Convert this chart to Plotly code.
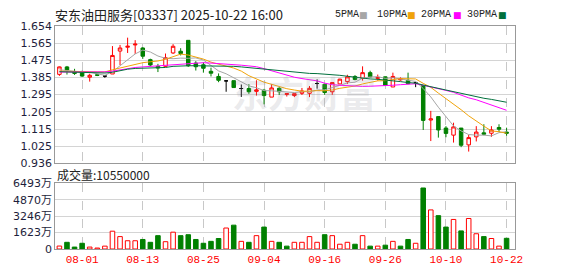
import plotly.graph_objects as go

# ---------------- data ----------------
dates = ["07-29", "07-30", "07-31",
         "08-01", "08-04", "08-05", "08-06", "08-07", "08-08", "08-11", "08-12", "08-13", "08-14",
         "08-15", "08-18", "08-19", "08-20", "08-21", "08-22", "08-25", "08-26", "08-27", "08-28", "08-29",
         "09-01", "09-02", "09-03", "09-04", "09-05", "09-08", "09-09", "09-10", "09-11", "09-12",
         "09-15", "09-16", "09-17", "09-18", "09-19", "09-22", "09-23", "09-24", "09-25", "09-26",
         "09-29", "09-30", "10-02", "10-03", "10-06", "10-08", "10-09", "10-10", "10-13", "10-14",
         "10-15", "10-16", "10-17", "10-20", "10-21", "10-22"]

opens = [1.401, 1.440, 1.415, 1.413, 1.386, 1.399, 1.392, 1.403, 1.523, 1.543,
         1.555, 1.539, 1.478, 1.443, 1.443, 1.513, 1.522, 1.579, 1.460, 1.451,
         1.417, 1.390, 1.367, 1.368, 1.327, 1.327, 1.312, 1.318, 1.282, 1.328,
         1.296, 1.290, 1.302, 1.302, 1.353, 1.349, 1.310, 1.351, 1.363, 1.390,
         1.380, 1.410, 1.380, 1.388, 1.335, 1.372, 1.370, 1.357, 1.343, 1.162,
         1.180, 1.120, 1.083, 1.120, 1.032, 1.074, 1.095, 1.093, 1.123, 1.099]
highs = [1.442, 1.445, 1.430, 1.420, 1.404, 1.400, 1.398, 1.549, 1.555, 1.593,
         1.580, 1.543, 1.483, 1.456, 1.510, 1.559, 1.538, 1.580, 1.470, 1.463,
         1.436, 1.406, 1.367, 1.368, 1.348, 1.350, 1.370, 1.325, 1.350, 1.334,
         1.300, 1.300, 1.330, 1.340, 1.375, 1.352, 1.360, 1.378, 1.399, 1.397,
         1.443, 1.420, 1.400, 1.390, 1.410, 1.385, 1.410, 1.362, 1.345, 1.210,
         1.180, 1.130, 1.148, 1.120, 1.085, 1.130, 1.140, 1.130, 1.140, 1.122]
lows = [1.393, 1.400, 1.398, 1.388, 1.363, 1.392, 1.383, 1.403, 1.450, 1.513,
        1.508, 1.482, 1.443, 1.413, 1.440, 1.508, 1.500, 1.440, 1.421, 1.410,
        1.390, 1.360, 1.310, 1.332, 1.283, 1.299, 1.290, 1.244, 1.282, 1.293,
        1.285, 1.282, 1.293, 1.282, 1.326, 1.294, 1.294, 1.350, 1.350, 1.370,
        1.368, 1.385, 1.368, 1.340, 1.335, 1.368, 1.350, 1.334, 1.110, 1.052,
        1.070, 1.072, 1.044, 1.020, 0.997, 1.050, 1.082, 1.074, 1.099, 1.080]
closes = [1.440, 1.424, 1.406, 1.392, 1.396, 1.396, 1.392, 1.500, 1.539, 1.548,
          1.559, 1.496, 1.450, 1.434, 1.488, 1.548, 1.510, 1.446, 1.441, 1.433,
          1.407, 1.370, 1.367, 1.332, 1.327, 1.310, 1.320, 1.290, 1.330, 1.310,
          1.300, 1.300, 1.314, 1.328, 1.353, 1.306, 1.358, 1.376, 1.388, 1.374,
          1.410, 1.388, 1.385, 1.343, 1.390, 1.378, 1.352, 1.357, 1.160, 1.168,
          1.110, 1.092, 1.126, 1.030, 1.070, 1.099, 1.088, 1.110, 1.114, 1.093]

volumes = [2900000, 6600000, 1900000, 5650000, 1900000, 940000, 2820000, 17570000, 12230000, 8150000,
           8150000, 9400000, 6600000, 13170000, 7200000, 16600000, 13170000, 14100000, 9400000, 5650000,
           7530000, 10350000, 20700000, 23530000, 7530000, 6600000, 13170000, 21650000, 7530000, 6600000,
           2820000, 6600000, 6600000, 12230000, 6600000, 14120000, 13170000, 4700000, 6600000, 4700000,
           13170000, 2820000, 2820000, 3760000, 7530000, 2820000, 9400000, 5650000, 60230000, 38580000,
           32940000, 21650000, 29170000, 17880000, 30120000, 15060000, 12230000, 10350000, 2820000, 10550000]
vol_up = [1, 0, 0, 0, 1, 1, 1, 1, 1, 1,
          1, 0, 0, 0, 1, 1, 0, 0, 0, 0,
          0, 0, 1, 0, 1, 0, 1, 0, 1, 0,
          0, 1, 1, 1, 1, 0, 1, 1, 1, 0,
          1, 0, 1, 0, 1, 0, 0, 1, 0, 1,
          0, 0, 1, 0, 1, 1, 0, 1, 1, 0]

ma5 = [1.425, 1.420, 1.415, 1.413, 1.412, 1.403, 1.396, 1.415, 1.445, 1.475,
       1.508, 1.528, 1.518, 1.497, 1.485, 1.483, 1.486, 1.485, 1.487, 1.476,
       1.447, 1.419, 1.404, 1.382, 1.361, 1.341, 1.331, 1.316, 1.315, 1.312,
       1.310, 1.306, 1.311, 1.310, 1.319, 1.320, 1.332, 1.344, 1.356, 1.360,
       1.381, 1.387, 1.389, 1.380, 1.383, 1.377, 1.370, 1.364, 1.327, 1.283,
       1.229, 1.177, 1.131, 1.105, 1.086, 1.083, 1.083, 1.079, 1.096, 1.101]
ma10 = [1.418, 1.418, 1.417, 1.416, 1.415, 1.414, 1.414, 1.425, 1.435, 1.443,
        1.455, 1.462, 1.467, 1.471, 1.480, 1.495, 1.507, 1.502, 1.492, 1.481,
        1.465, 1.453, 1.444, 1.434, 1.418, 1.394, 1.375, 1.360, 1.349, 1.336,
        1.326, 1.319, 1.313, 1.313, 1.316, 1.315, 1.319, 1.328, 1.333, 1.340,
        1.351, 1.360, 1.367, 1.368, 1.372, 1.379, 1.378, 1.377, 1.354, 1.333,
        1.303, 1.274, 1.248, 1.216, 1.184, 1.156, 1.130, 1.105, 1.101, 1.093]
ma20 = [1.413, 1.413, 1.413, 1.413, 1.413, 1.413, 1.414, 1.418, 1.425, 1.432,
        1.437, 1.440, 1.443, 1.445, 1.447, 1.450, 1.455, 1.458, 1.460, 1.462,
        1.460, 1.458, 1.456, 1.453, 1.449, 1.445, 1.441, 1.431, 1.420, 1.408,
        1.396, 1.386, 1.379, 1.374, 1.367, 1.355, 1.347, 1.344, 1.341, 1.338,
        1.338, 1.339, 1.340, 1.341, 1.344, 1.347, 1.349, 1.352, 1.344, 1.336,
        1.327, 1.317, 1.307, 1.292, 1.278, 1.268, 1.254, 1.241, 1.227, 1.213]
ma30 = [1.415, 1.414, 1.413, 1.412, 1.411, 1.410, 1.408, 1.412, 1.420, 1.428,
        1.432, 1.433, 1.433, 1.434, 1.437, 1.443, 1.446, 1.446, 1.446, 1.446,
        1.446, 1.445, 1.444, 1.443, 1.440, 1.436, 1.432, 1.428, 1.424, 1.420,
        1.415, 1.411, 1.408, 1.406, 1.405, 1.402, 1.401, 1.396, 1.391, 1.386,
        1.381, 1.377, 1.375, 1.372, 1.369, 1.363, 1.358, 1.355, 1.345, 1.336,
        1.327, 1.317, 1.309, 1.299, 1.291, 1.284, 1.276, 1.270, 1.263, 1.255]

price_ticks = [1.654, 1.565, 1.475, 1.385, 1.295, 1.205, 1.115, 1.025, 0.936]
vol_ticks = [0, 16230000, 32460000, 48700000, 64930000]
vol_tick_labels = ["0", "1623万", "3246万", "4870万", "6493万"]
date_tick_labels = ["08-01", "08-13", "08-25", "09-04", "09-16", "09-26", "10-10", "10-22"]

title_text = "安东油田服务[03337] 2025-10-22 16:00"
ma_names = ["5PMA", "10PMA", "20PMA", "30PMA"]
watermark_text = "东方财富"

# ---------------- styles ----------------
W, H = 578, 276
RED = "#ff0000"
GREEN = "#008000"
MA_COLORS = ["#a6a6a6", "#f0a30a", "#ff00ff", "#00703c"]
PLOT_L, PLOT_R = 56, 522
P_TOP, P_BOT = 21, 165
V_TOP, V_BOT = 186, 255

xs = list(range(len(dates)))
tick_idx = [dates.index(d) for d in date_tick_labels]


def subset(cond):
    idx = [i for i in xs if cond(i)]
    return dict(x=idx, open=[opens[i] for i in idx], high=[highs[i] for i in idx],
                low=[lows[i] for i in idx], close=[closes[i] for i in idx])


fig = go.Figure()

up = subset(lambda i: closes[i] > opens[i])
dn = subset(lambda i: closes[i] < opens[i])
dj = subset(lambda i: closes[i] == opens[i])

fig.add_trace(go.Candlestick(**up, xaxis="x", yaxis="y",
                             increasing=dict(line=dict(color=RED, width=1), fillcolor="white"),
                             decreasing=dict(line=dict(color=RED, width=1), fillcolor="white"),
                             hoverinfo="skip"))
fig.add_trace(go.Candlestick(**dn, xaxis="x", yaxis="y",
                             increasing=dict(line=dict(color=GREEN, width=1), fillcolor=GREEN),
                             decreasing=dict(line=dict(color=GREEN, width=1), fillcolor=GREEN),
                             hoverinfo="skip"))
fig.add_trace(go.Candlestick(**dj, xaxis="x", yaxis="y",
                             increasing=dict(line=dict(color="black", width=1), fillcolor="black"),
                             decreasing=dict(line=dict(color="black", width=1), fillcolor="black"),
                             hoverinfo="skip"))

for ma, col in zip([ma5, ma10, ma20, ma30], MA_COLORS):
    fig.add_trace(go.Scatter(x=xs, y=ma, mode="lines", line=dict(color=col, width=1),
                             xaxis="x", yaxis="y", hoverinfo="skip"))

vu = [i for i in xs if vol_up[i]]
vd = [i for i in xs if not vol_up[i]]
fig.add_trace(go.Bar(x=vu, y=[volumes[i] for i in vu], xaxis="x2", yaxis="y2", width=0.6,
                     marker=dict(color="white", line=dict(color=RED, width=1)), hoverinfo="skip"))
fig.add_trace(go.Bar(x=vd, y=[volumes[i] for i in vd], xaxis="x2", yaxis="y2", width=0.6,
                     marker=dict(color=GREEN, line=dict(color=GREEN, width=1)), hoverinfo="skip"))

xdom = [PLOT_L / W, PLOT_R / W]
xrange = [-0.55, len(dates) + 0.08]
axis_common = dict(showline=True, mirror=True, linecolor="#999999", linewidth=1,
                   zeroline=False, ticks="", fixedrange=True)

fig.update_layout(
    width=W, height=H, margin=dict(l=0, r=0, t=0, b=0),
    paper_bgcolor="white", plot_bgcolor="white", showlegend=False,
    boxgap=0.34, barmode="overlay",
    xaxis=dict(domain=xdom, range=xrange, anchor="y", tickvals=tick_idx, showticklabels=False,
               showgrid=True, gridcolor="#c8c8c8", griddash="dash", gridwidth=1,
               rangeslider=dict(visible=False), **axis_common),
    yaxis=dict(domain=[1 - P_BOT / H, 1 - P_TOP / H], range=[price_ticks[-1], price_ticks[0]],
               anchor="x", tickvals=price_ticks, ticktext=[f"{v:.3f}" for v in price_ticks],
               showgrid=True, gridcolor="#d4d4d4", gridwidth=1,
               tickfont=dict(family="DejaVu Sans", size=11, color="#1e1e3c"), **axis_common),
    xaxis2=dict(domain=xdom, range=xrange, anchor="y2", tickvals=tick_idx, ticktext=date_tick_labels,
                showgrid=True, gridcolor="#c8c8c8", griddash="dash", gridwidth=1,
                tickfont=dict(family="Liberation Mono", size=11, color=RED), **axis_common),
    yaxis2=dict(domain=[1 - V_BOT / H, 1 - V_TOP / H], range=[0, vol_ticks[-1]], anchor="x2",
                tickvals=vol_ticks, ticktext=vol_tick_labels,
                showgrid=True, gridcolor="#d4d4d4", gridwidth=1,
                tickfont=dict(family="DejaVu Sans, Noto Sans CJK SC", size=11, color="#1e1e3c"),
                **axis_common),
)

ann = []
# watermark
ann.append(dict(x=308 / W, y=1 - 90 / H, xref="paper", yref="paper", text=watermark_text,
                xanchor="center", yanchor="middle", showarrow=False, width=180, height=56,
                font=dict(family="Noto Sans CJK SC", size=36, weight="bold",
                          color="rgba(150,150,160,0.2)")))
# title
ann.append(dict(x=54 / W, y=1 - 9 / H, xref="paper", yref="paper", xanchor="left", yanchor="middle",
                text=title_text, showarrow=False,
                font=dict(family="Noto Sans CJK SC", size=13, color="#222222")))
# MA legend
label_x = [338, 380, 425, 472]
square_x = [369, 417, 464, 510]
for name, lx, sx, col in zip(ma_names, label_x, square_x, MA_COLORS):
    ann.append(dict(x=lx / W, y=1 - 9 / H, xref="paper", yref="paper", xanchor="left",
                    yanchor="middle", text=name, showarrow=False,
                    font=dict(family="Liberation Mono", size=10, color="#222222")))
    ann.append(dict(x=sx / W, y=1 - 9 / H, xref="paper", yref="paper", xanchor="center",
                    yanchor="middle", text="■", showarrow=False,
                    font=dict(family="DejaVu Sans", size=9, color=col)))
# volume label
ann.append(dict(x=56 / W, y=1 - 177 / H, xref="paper", yref="paper", xanchor="left",
                yanchor="middle", text=f"成交量:{volumes[-1]}", showarrow=False,
                font=dict(family="Noto Sans CJK SC", size=12, color="#222222")))
fig.update_layout(annotations=ann)

fig.write_html("out.html")
